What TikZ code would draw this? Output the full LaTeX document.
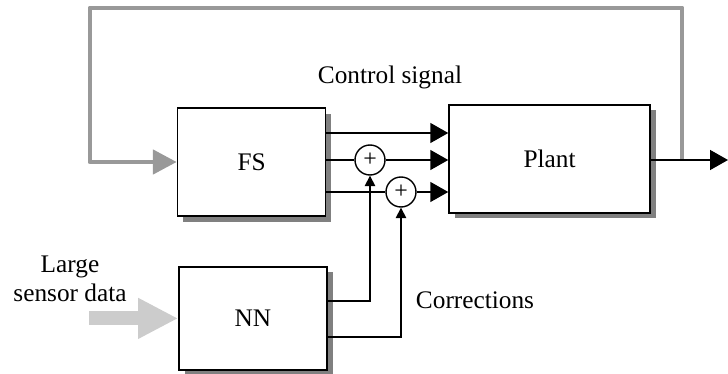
\documentclass[tikz,border=0pt]{standalone}
\usepackage{fontspec}
\setmainfont{Liberation Serif}
\usepackage{tikz}
\usetikzlibrary{arrows.meta, positioning, shadows, calc}

\begin{document}
\begin{tikzpicture}[
        block/.style={rectangle, draw, line width=1.2pt, fill=white, minimum width=3.7cm, minimum height=2.7cm, align=center,
            font=\fontsize{18}{21}\selectfont,
            drop shadow={shadow xshift=1.4mm, shadow yshift=-1.4mm, fill=gray, opacity=1}},
        sum/.style={circle, draw, line width=1pt, fill=white, minimum size=0.75cm, inner sep=0pt, font=\fontsize{17}{17}\selectfont},
        line/.style={line width=1.1pt},
        arrow/.style={-{Triangle[length=4.5mm, width=5mm]}, line width=1.1pt},
        uparrow/.style={-{Triangle[length=2.6mm, width=2.6mm]}, line width=1.1pt},
        feedback/.style={-{Triangle[length=6mm, width=6mm]}, line width=3.5pt, draw=gray!80, line join=round},
        bigarrow/.style={-{Triangle[length=1cm, width=0.95cm]}, line width=0.35cm, draw=gray!40},
        label/.style={font=\fontsize{18}{21}\selectfont, align=center}
    ]
        \useasboundingbox (0,0) rectangle (18.2,9.35);
        \node[block] (fs) at (6.29,5.3) {FS};
        \node[block, minimum height=2.575cm] (nn) at (6.325,1.39) {NN};
        \node[block, minimum width=5.025cm] (plant) at (13.74,5.38) {Plant};
        \node[sum] (sum1) at (9.25,5.35) {+};
        \node[sum] (sum2) at (10.025,4.55) {+};
        \node[label] (ctrl) at (9.75,7.42) {Control signal};
        \node[label] (corr) at (11.875,1.85) {Corrections};
        \node[label] (sensor) at (1.75,2.38) {Large\\sensor data};
        \coordinate (fbtop) at (2.25,9.15);
        \coordinate (tap) at (17.05,5.35);
        \coordinate (out) at (18.2,5.35);
        \coordinate (src) at (2.225,1.35);
        % feedback from plant output
        \draw[feedback] (tap) |- (fbtop) |- (fs.west);
        \draw[arrow] (plant.east |- tap) -- (out);
        % control signals
        \draw[arrow] ([yshift=7.25mm]fs.east) -- ([yshift=7.25mm]fs.east -| plant.west);
        \draw[line] (fs.east |- sum1) -- (sum1);
        \draw[arrow] (sum1) -- (plant.west |- sum1);
        \draw[line] (fs.east |- sum2) -- (sum2);
        \draw[arrow] (sum2) -- (plant.west |- sum2);
        % corrections
        \draw[uparrow] ([yshift=4.35mm]nn.east) -| (sum1.south);
        \draw[uparrow] ([yshift=-4.65mm]nn.east) -| (sum2.south);
        \draw[bigarrow] (src |- nn.west) -- (nn.west);
    \end{tikzpicture}
\end{document}
